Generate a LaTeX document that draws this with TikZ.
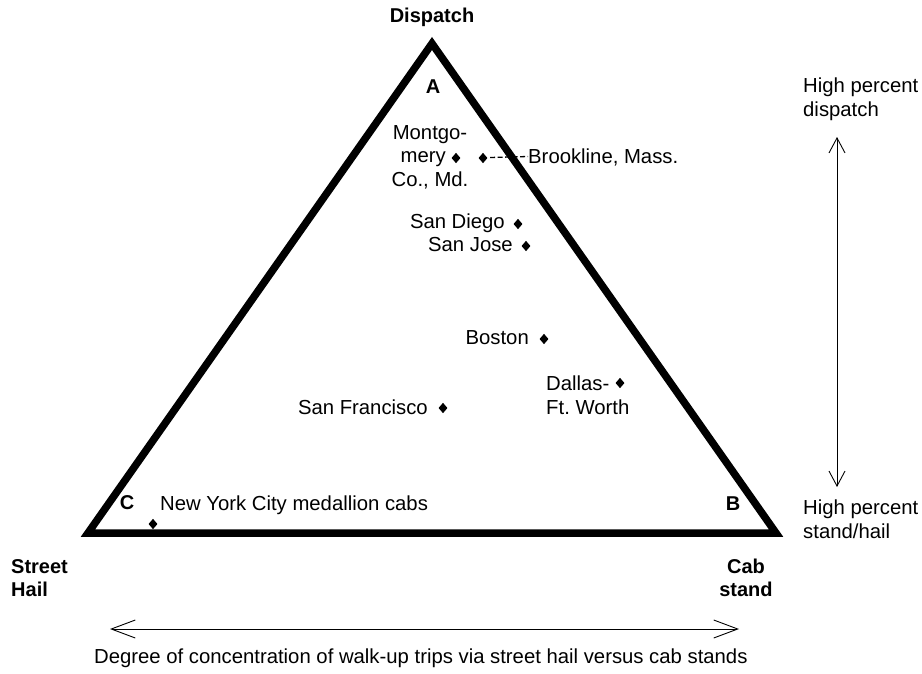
\documentclass[tikz,border=0pt]{standalone}
\usepackage{fontspec}
\setmainfont{Liberation Sans}
\usetikzlibrary{shapes.geometric,arrows.meta}
\frenchspacing
\begin{document}
\begin{tikzpicture}[x=1pt,y=-1pt,
  lbl/.style={font=\fontsize{20.3}{23.5}\selectfont, inner sep=0pt},
  blbl/.style={font=\fontsize{20}{23}\selectfont\bfseries, inner sep=0pt},
  city/.style={diamond, fill=black, inner sep=0pt, minimum width=9pt, minimum height=10.5pt},
  vscale/.style={line width=0.9pt, {Straight Barb[length=15pt,width=16pt,line width=0.9pt]}-{Straight Barb[length=15pt,width=16pt,line width=0.9pt]}},
  hscale/.style={line width=0.9pt, {Straight Barb[length=24pt,width=18pt,line width=0.9pt]}-{Straight Barb[length=24pt,width=18pt,line width=0.9pt]}}
]
\useasboundingbox (0,0) rectangle (922,673);

% triangle of service modes
\coordinate (A) at (432,43.5);
\coordinate (B) at (776,533);
\coordinate (C) at (88,533);
\draw[line width=7.5pt, miter limit=10] (A) -- (B) -- (C) -- cycle;

% corner names
\node[blbl] (dispatch) at (432,17) {Dispatch};
\node[blbl] (la) at (433,87) {A};
\node[blbl] (lb) at (733,504) {B};
\node[blbl] (lc) at (127,503) {C};
\node[blbl, align=left, anchor=west] (hail) at (11,578) {Street\\Hail};
\node[blbl, align=center] (stand) at (746,578) {Cab\\stand};

% cities
\node[city] (mont) at (456,158) {};
\node[lbl, align=center] (montt) at (430,157) {Montgo-\\mery\hphantom{\,\,\,\,}\\Co., Md.};
\node[city] (brook) at (483,158) {};
\node[lbl, anchor=west] (brookt) at (528,157) {Brookline, Mass.};
\draw[line width=1.3pt, dash pattern=on 5pt off 2.5pt] (brook.east) ++(2.5pt,0.5pt) -- ([yshift=0.5pt]brookt.west);

\node[city] (sd) at (518,224) {};
\node[lbl, anchor=east] (sdt) at (505,223) {San Diego};
\node[city] (sj) at (526,246) {};
\node[lbl, anchor=east] (sjt) at (513,245) {San Jose};
\node[city] (bos) at (544,339) {};
\node[lbl, anchor=east] (bost) at (529,338) {Boston};
\node[city] (dal) at (620,383) {};
\node[lbl, anchor=west, align=left] (dalt) at (546,395) {Dallas-\\Ft. Worth};
\node[city] (sf) at (443,408) {};
\node[lbl, anchor=east] (sft) at (428,407) {San Francisco};
\node[city] (nyc) at (153,524) {};
\node[lbl, anchor=west] (nyct) at (160,505) {New York City medallion cabs};

% vertical scale
\node[lbl, anchor=west, align=left] (hd) at (803,99) {High percent\\dispatch};
\node[lbl, anchor=west, align=left] (hs) at (803,519) {High percent\\stand/hail};
\coordinate (vt) at (837,137);
\coordinate (vb) at (837,487);
\draw[vscale] (vt) -- (vb);

% horizontal scale
\coordinate (hl) at (110,629);
\coordinate (hr) at (739,629);
\draw[hscale] (hl) -- (hr);
\node[lbl, anchor=west] (cap) at (94,658) {Degree of concentration of walk-up trips via street hail versus cab stands};
\end{tikzpicture}
\end{document}
